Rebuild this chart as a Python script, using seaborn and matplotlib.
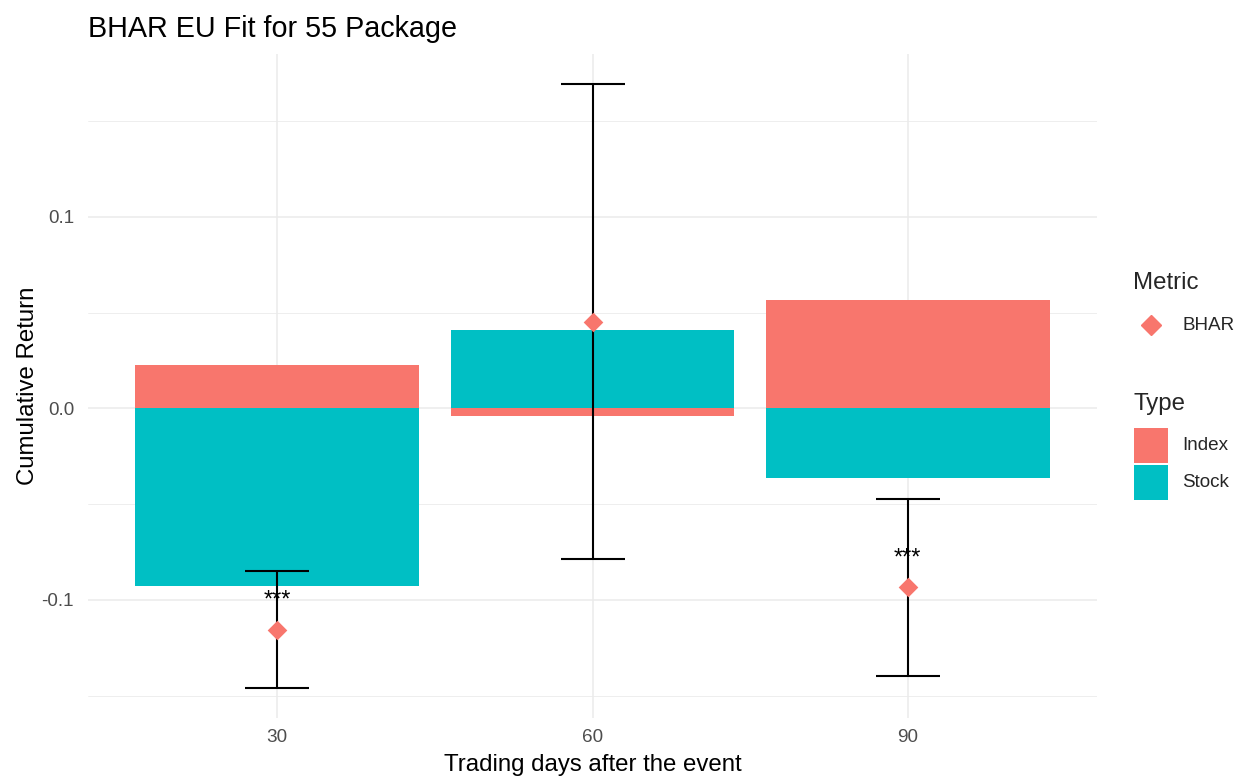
import matplotlib
matplotlib.use("Agg")
import matplotlib.pyplot as plt
from matplotlib.patches import Rectangle
from matplotlib.lines import Line2D
import numpy as np
import pandas as pd
import seaborn as sns

# Buy-and-hold abnormal return decomposition by horizon
horizons = ["30", "60", "90"]
types = ["Index", "Stock"]
index_ret = [0.0226, -0.0042, 0.0568]
stock_ret = [-0.0928, 0.0407, -0.0364]
bhar = [-0.1155, 0.0450, -0.0935]
ci_low = [-0.1460, -0.0789, -0.1399]
ci_high = [-0.0848, 0.1692, -0.0472]
signif = ["***", "", "***"]

palette = {"Index": "#F8766D", "Stock": "#00BFC4"}
GRID = "#EBEBEB"
FONT = ["Liberation Sans", "DejaVu Sans"]
TICK_SIZE = 13.6
TITLE_SIZE = 17.3

sns.set_theme(style="white")
plt.rcParams["font.family"] = FONT

bars = pd.DataFrame({
    "Horizon": horizons * 2,
    "Type": ["Index"] * 3 + ["Stock"] * 3,
    "Return": index_ret + stock_ret,
})
points = pd.DataFrame({"Horizon": horizons, "BHAR": bhar})

fig = plt.figure(figsize=(12.36, 7.76), dpi=100)
ax = fig.add_axes([88 / 1236, 1 - 718 / 776, (1097 - 88) / 1236, (718 - 54) / 776])

# grid (major + minor), ggplot minimal style
for yv in [-0.15, -0.05, 0.05, 0.15]:
    ax.axhline(yv, color=GRID, lw=0.6, zorder=0)
for yv in [-0.1, 0.0, 0.1]:
    ax.axhline(yv, color=GRID, lw=1.1, zorder=0)
for xv in range(3):
    ax.axvline(xv, color=GRID, lw=1.1, zorder=0)

sns.barplot(data=bars, x="Horizon", y="Return", hue="Type", order=horizons,
            hue_order=types, palette=palette, dodge=False, width=0.9,
            saturation=1, errorbar=None, legend=False, ax=ax, zorder=2,
            linewidth=0)

xpos = np.arange(len(horizons))
err = [np.array(bhar) - np.array(ci_low), np.array(ci_high) - np.array(bhar)]
ax.errorbar(xpos, bhar, yerr=err, fmt="none", ecolor="black", elinewidth=1.5,
            capsize=22.7, capthick=1.5, zorder=3)

sns.stripplot(data=points, x="Horizon", y="BHAR", order=horizons, jitter=False,
              marker="D", color="#F8766D", size=10, linewidth=0, ax=ax, zorder=4)

for x, b, s in zip(xpos, bhar, signif):
    if s:
        ax.text(x, b + 0.015, s, ha="center", va="center", fontsize=17,
                color="black", zorder=5)

ax.set_xlim(-0.6, 2.6)
ax.set_ylim(-0.1617, 0.185)
ax.set_yticks([-0.1, 0.0, 0.1])
ax.set_yticklabels(["-0.1", "0.0", "0.1"])
ax.tick_params(axis="both", length=0, labelsize=TICK_SIZE, labelcolor="#4D4D4D")
ax.tick_params(axis="y", pad=10)
ax.tick_params(axis="x", pad=8)
for sp in ax.spines.values():
    sp.set_visible(False)
ax.set_xlabel("Trading days after the event", fontsize=TITLE_SIZE, color="black",
              labelpad=6)
ax.set_ylabel("Cumulative Return", fontsize=TITLE_SIZE, color="black", labelpad=2)
ax.set_title("BHAR EU Fit for 55 Package", fontsize=20.7, loc="left", pad=12,
             color="black")

# legends
fig.text(1133 / 1236, 1 - 283 / 776, "Metric", fontsize=TITLE_SIZE, va="center",
         ha="left")
fig.add_artist(Line2D([1151 / 1236], [1 - 325 / 776], marker="D", color="#F8766D",
                      markersize=10, linestyle="none", transform=fig.transFigure))
fig.text(1182 / 1236, 1 - 325 / 776, "BHAR", fontsize=TICK_SIZE, va="center",
         ha="left")

fig.text(1133 / 1236, 1 - 404 / 776, "Type", fontsize=TITLE_SIZE, va="center",
         ha="left")
for i, t in enumerate(types):
    top = 428 + i * 37
    fig.add_artist(Rectangle((1134 / 1236, 1 - (top + 35) / 776), 34 / 1236, 35 / 776,
                             facecolor=palette[t], edgecolor="none",
                             transform=fig.transFigure))
    fig.text(1182 / 1236, 1 - (top + 17.5) / 776, t, fontsize=TICK_SIZE, va="center",
             ha="left")

fig.savefig("out.png", dpi=100, facecolor="white")
